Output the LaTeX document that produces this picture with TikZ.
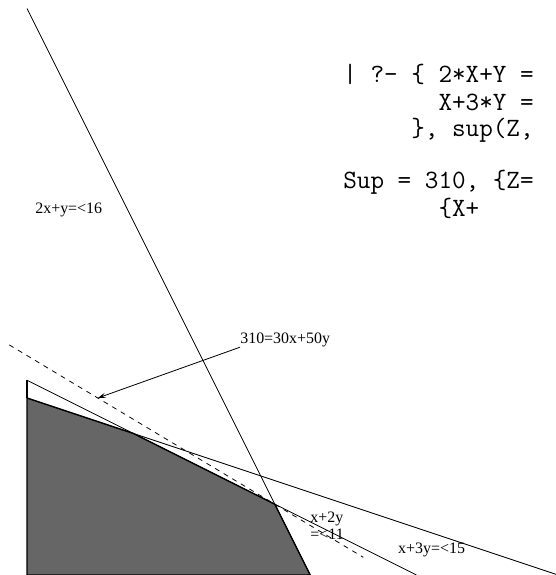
\documentclass[tikz,border=0pt]{standalone}
\usepackage{fontspec}
\setmainfont{Liberation Serif}
\usetikzlibrary{arrows.meta}
\tikzset{
  lbl/.style={font=\fontsize{16}{17}\selectfont, inner sep=0pt, anchor=west},
  code/.style={font=\fontsize{26.5}{28}\ttfamily, inner sep=0pt, anchor=base west},
  thinline/.style={line width=0.8bp},
  region/.style={fill=black!60, draw=black, line width=1.3bp},
  objline/.style={line width=0.8bp, dash pattern=on 5bp off 5bp},
  pointer/.style={line width=0.8bp, -{Stealth[length=8bp,width=5bp,inset=3bp]}}
}
\begin{document}
\begin{tikzpicture}[x=35.4bp,y=35.4bp]
\clip (-27bp,0bp) rectangle (529bp,575bp);
% feasible region
\coordinate (o) at (0,0);
\coordinate (a) at (8,0);
\coordinate (b) at (7,2);
\coordinate (c) at (3,4);
\coordinate (d) at (0,5);
\coordinate (e) at (0,5.5);
\draw[region] (o) -- (a) -- (b) -- (c) -- (d) -- cycle;
\draw[line width=1.8bp] (d) -- (e);
% constraint lines
\coordinate (l1s) at (0,16);
\coordinate (l2e) at (11,0);
\coordinate (l3e) at (15,0);
\draw[thinline] (l1s) -- (a);
\draw[thinline] (e) -- (l2e);
\draw[thinline] (d) -- (l3e);
% objective line
\coordinate (z1) at (-0.5,6.5);
\coordinate (z2) at (9.5,0.5);
\draw[objline] (z1) -- (z2);
% labels
\node[lbl] (L1) at (0.23,10.3) {2x+y=<16};
\node[lbl] (Lz) at (6.02,6.64) {310=30x+50y};
\coordinate (tip) at (2,5);
\draw[pointer] (Lz.south west) -- (tip);
\node[lbl, align=left] (L2) at (8.0,1.38) {x+2y\\=<11};
\node[lbl] (L3) at (10.48,0.71) {x+3y=<15};
% code
\node[code] (c1) at (8.93,13.90) {| ?- \{ 2*X+Y =};
\node[code] (c2) at (8.93,13.11) {\phantom{| ?- \{ }X+3*Y =};
\node[code] (c3) at (8.93,12.40) {\phantom{| ?- }\}, sup(Z,};
\node[code] (c4) at (8.93,10.93) {Sup = 310, \{Z=};
\node[code] (c5) at (8.93,10.14) {\phantom{Sup = 3}\{X+};
\end{tikzpicture}
\end{document}
